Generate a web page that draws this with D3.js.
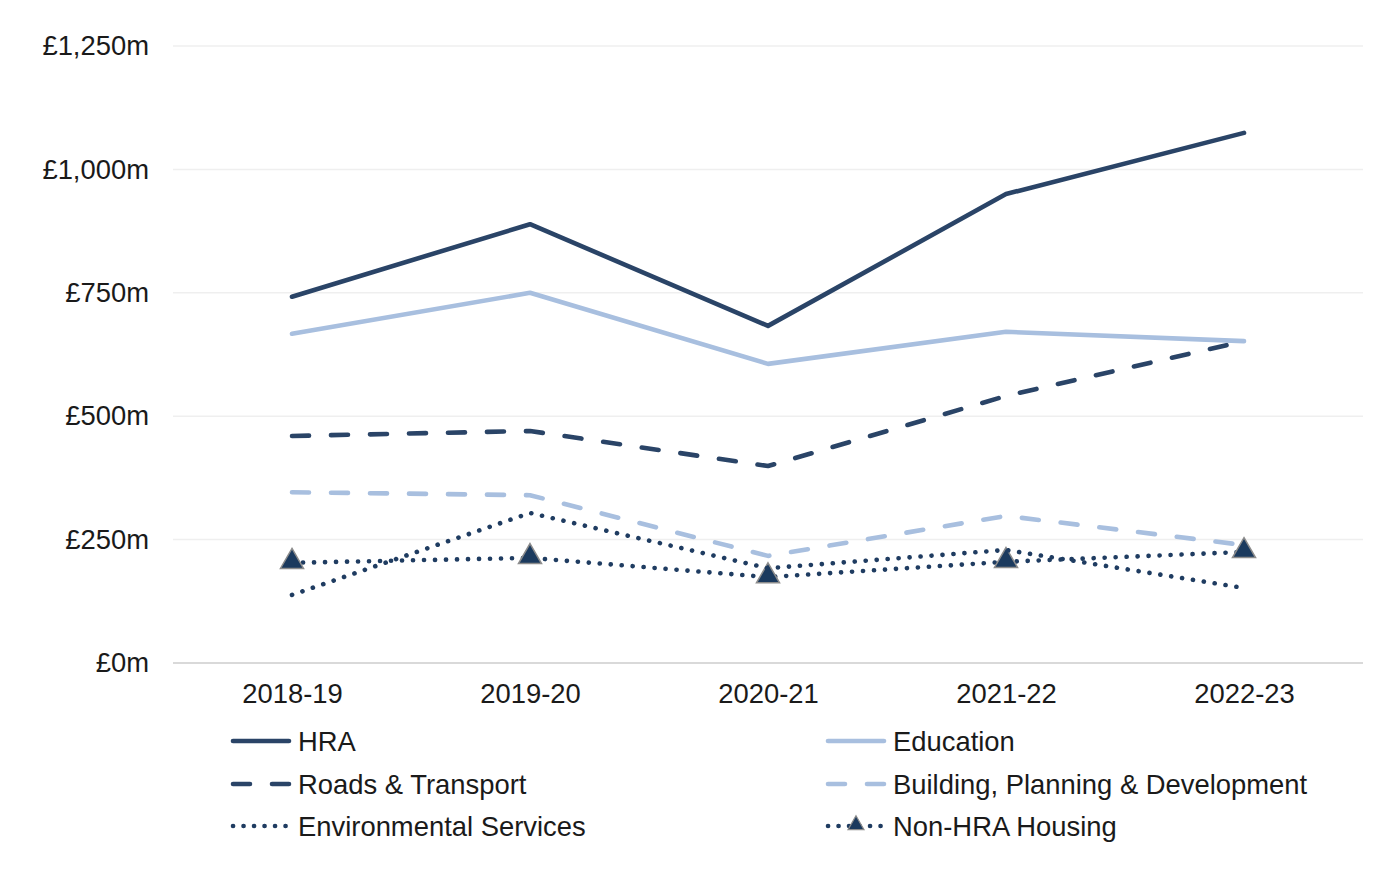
<!DOCTYPE html>
<html lang="en">
    <head>
        <title>Capital spend by service</title>
        <script src="https://d3js.org/d3.v7.min.js"></script>
        <style>
            body { margin: 0; background: #fff; }
            text { font-family: "Liberation Sans", Arial, sans-serif; fill: #1a1a1a; }
        </style>
    </head>
    <body>

    <div id="mainDiv"></div>

        <script type="text/javascript">
            const width = 1394
            const height = 874

            // data (£m)
            const years = ['2018-19', '2019-20', '2020-21', '2021-22', '2022-23']
            const hra = [742, 889, 683, 950, 1074]
            const education = [667, 750, 606, 671, 652]
            const roads = [460, 470, 399, 541, 652]
            const building = [346, 340, 217, 298, 239]
            const environmental = [138, 304, 192, 229, 152]
            const nonHra = [203, 213, 174, 205, 225]
            const yTicks = [0, 250, 500, 750, 1000, 1250]

            const dark = '#2a4467'
            const light = '#a8bfdf'
            const dotCol = '#1f3c61'
            const fontSize = '27.4px'

            const series = [
                { name: 'HRA', values: hra, color: dark, dash: null, col: 0, row: 0 },
                { name: 'Education', values: education, color: light, dash: null, col: 1, row: 0 },
                { name: 'Roads & Transport', values: roads, color: dark, dash: '17 22', col: 0, row: 1 },
                { name: 'Building, Planning & Development', values: building, color: light, dash: '17 22', col: 1, row: 1 },
                { name: 'Environmental Services', values: environmental, color: dotCol, dash: '0.1 10.9', col: 0, row: 2 },
                { name: 'Non-HRA Housing', values: nonHra, color: dotCol, dash: '0.1 10.9', col: 1, row: 2, marker: true }
            ]

            const svg = d3.select('#mainDiv').append('svg')
                .attr('width', width)
                .attr('height', height)

            const plotLeft = 173, plotRight = 1363, plotTop = 46, plotBottom = 663

            const xScale = d3.scalePoint()
                .domain(years)
                .range([plotLeft, plotRight])
                .padding(0.5)

            const yScale = d3.scaleLinear()
                .domain([0, 1250])
                .range([plotBottom, plotTop])

            // gridlines
            svg.append('g').selectAll('line')
                .data(yTicks)
                .join('line')
                .attr('x1', plotLeft)
                .attr('x2', plotRight)
                .attr('y1', d => yScale(d))
                .attr('y2', d => yScale(d))
                .attr('stroke', d => d === 0 ? '#d9d9d9' : '#efefef')
                .attr('stroke-width', d => d === 0 ? 2 : 1.5)

            // y axis labels
            const yAxis = d3.axisLeft(yScale)
                .tickValues(yTicks)
                .tickSize(0)
                .tickPadding(24)
                .tickFormat(d => '£' + d3.format(',')(d) + 'm')
            const yG = svg.append('g')
                .attr('transform', `translate(${plotLeft},0)`)
                .call(yAxis)
            yG.select('.domain').remove()
            yG.selectAll('text')
                .style('font-family', '"Liberation Sans", Arial, sans-serif')
                .style('font-size', fontSize)
                .attr('fill', '#1a1a1a')

            // x axis labels
            const xAxis = d3.axisBottom(xScale).tickSize(0).tickPadding(21)
            const xG = svg.append('g')
                .attr('transform', `translate(0,${plotBottom})`)
                .call(xAxis)
            xG.select('.domain').remove()
            xG.selectAll('text')
                .style('font-family', '"Liberation Sans", Arial, sans-serif')
                .style('font-size', fontSize)
                .attr('fill', '#1a1a1a')

            const line = d3.line()
                .x((d, i) => xScale(years[i]))
                .y(d => yScale(d))

            const tri = d3.symbol().type(d3.symbolTriangle)

            // draw in reverse so HRA sits on top
            series.slice().reverse().forEach(s => {
                svg.append('path')
                    .datum(s.values)
                    .attr('d', line)
                    .attr('fill', 'none')
                    .attr('stroke', s.color)
                    .attr('stroke-width', 4.6)
                    .attr('stroke-linecap', 'round')
                    .attr('stroke-linejoin', 'round')
                    .attr('stroke-dasharray', s.dash)

                if (s.marker) {
                    svg.append('g').selectAll('path')
                        .data(s.values)
                        .join('path')
                        .attr('d', tri.size(230))
                        .attr('transform', (d, i) => `translate(${xScale(years[i])},${yScale(d) - 1})`)
                        .attr('fill', '#1b3a5e')
                        .attr('stroke', '#8c8c8c')
                        .attr('stroke-width', 1.5)
                }
            })

            // legend
            const colX = [231, 826]
            const rowY = [741, 784, 826]
            const legend = svg.append('g')
            series.forEach(s => {
                const x0 = colX[s.col]
                const y0 = rowY[s.row]
                legend.append('line')
                    .attr('x1', x0 + 2)
                    .attr('x2', x0 + 58)
                    .attr('y1', y0)
                    .attr('y2', y0)
                    .attr('stroke', s.color)
                    .attr('stroke-width', 4.6)
                    .attr('stroke-linecap', 'round')
                    .attr('stroke-dasharray', s.dash ? (s.dash === '17 22' ? '17 22' : '0.1 10.4') : null)
                if (s.marker) {
                    legend.append('path')
                        .attr('d', tri.size(110))
                        .attr('transform', `translate(${x0 + 30},${y0 - 1})`)
                        .attr('fill', '#1b3a5e')
                        .attr('stroke', '#8c8c8c')
                        .attr('stroke-width', 1.2)
                }
                legend.append('text')
                    .attr('x', x0 + 67)
                    .attr('y', y0)
                    .attr('dy', '0.35em')
                    .style('font-size', fontSize)
                    .text(s.name)
            })
        </script>
    </body>
</html>
